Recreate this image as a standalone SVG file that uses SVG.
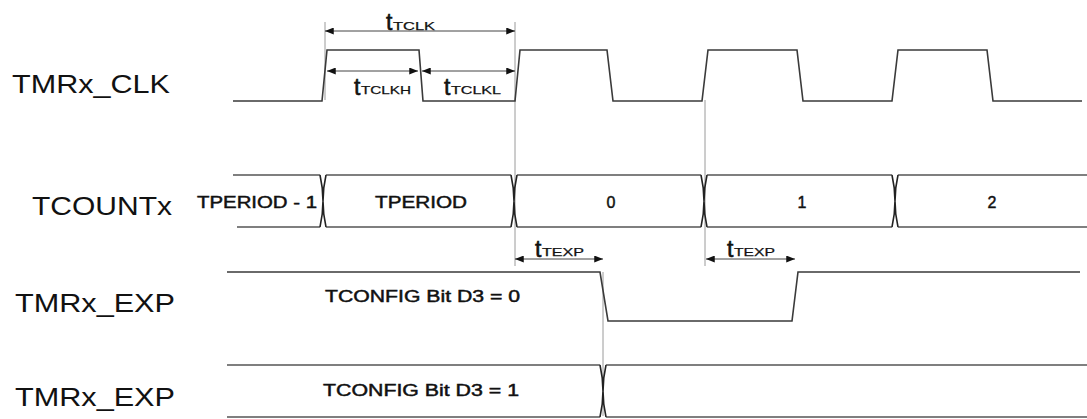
<svg xmlns="http://www.w3.org/2000/svg" width="1087" height="419" viewBox="0 0 1087 419">
<style>
.bg{fill:#ffffff}
.wave{fill:none;stroke:#3a3a3a;stroke-width:1.6;stroke-linejoin:miter}
.bus{fill:none;stroke:#555;stroke-width:1.6}
.xing{fill:none;stroke:#222;stroke-width:1.6}
.ref{fill:none;stroke:#9a9a9a;stroke-width:1}
.dim{fill:none;stroke:#444;stroke-width:1;marker-start:url(#ah);marker-end:url(#ah)}
.lbl{font-family:"Liberation Sans",Arial,sans-serif;fill:#111;font-size:25px}
.val{font-family:"Liberation Sans",Arial,sans-serif;fill:#111;stroke:#111;stroke-width:0.45;font-size:16px}
.t{font-family:"Liberation Sans",Arial,sans-serif;fill:#111;stroke:#111;stroke-width:0.6;font-size:23px}
.sub{font-family:"Liberation Sans",Arial,sans-serif;fill:#111;stroke:#111;stroke-width:0.25;font-size:11px}
</style>
<defs>
<marker id="ah" viewBox="0 0 10 8" refX="10" refY="4" markerWidth="9" markerHeight="7" markerUnits="userSpaceOnUse" orient="auto-start-reverse">
<path d="M0,0 L10,4 L0,8 Z" fill="#111"/>
</marker>
</defs>
<rect class="bg" x="0" y="0" width="1087" height="419"/>

<g id="labels">
<text class="lbl" x="12" y="93" textLength="158" lengthAdjust="spacingAndGlyphs">TMRx_CLK</text>
<text class="lbl" x="32" y="215" textLength="140" lengthAdjust="spacingAndGlyphs">TCOUNTx</text>
<text class="lbl" x="15" y="312" textLength="160" lengthAdjust="spacingAndGlyphs">TMRx_EXP</text>
<text class="lbl" x="15" y="406" textLength="160" lengthAdjust="spacingAndGlyphs">TMRx_EXP</text>
</g>

<g id="connectors">
<line class="ref" x1="325" y1="22" x2="325" y2="100"/>
<line class="ref" x1="515" y1="22" x2="515" y2="266"/>
<line class="ref" x1="705" y1="100" x2="705" y2="266"/>
<line class="ref" x1="603" y1="272" x2="603" y2="416"/>
<line class="dim" x1="325" y1="31" x2="515" y2="31"/>
<line class="dim" x1="327" y1="71" x2="418" y2="71"/>
<line class="dim" x1="422" y1="71" x2="515" y2="71"/>
<line class="dim" x1="515" y1="259" x2="603" y2="259"/>
<line class="dim" x1="706" y1="259" x2="795" y2="259"/>
</g>

<g id="clk">
<path class="wave" d="M233,101 L322,101 L327,50 L419,50 L423,101 L515,101 L520,50 L607,50 L613,101 L702,101 L708,50 L797,50 L803,101 L892,101 L898,50 L987,50 L993,101 L1082,101"/>
</g>

<g id="timing-labels">
<text class="t" x="386" y="30">t</text>
<text class="sub" x="393" y="30" textLength="42" lengthAdjust="spacingAndGlyphs">TCLK</text>
<text class="t" x="354" y="95">t</text>
<text class="sub" x="361" y="94" textLength="50" lengthAdjust="spacingAndGlyphs">TCLKH</text>
<text class="t" x="444" y="95">t</text>
<text class="sub" x="451" y="94" textLength="50" lengthAdjust="spacingAndGlyphs">TCLKL</text>
<text class="t" x="535" y="257">t</text>
<text class="sub" x="542" y="256" textLength="42" lengthAdjust="spacingAndGlyphs">TEXP</text>
<text class="t" x="727" y="257">t</text>
<text class="sub" x="734" y="256" textLength="41" lengthAdjust="spacingAndGlyphs">TEXP</text>
</g>

<g id="tcount">
<path class="bus" d="M233,175 L320,175 M237,227 L320,227 M326,175 L511,175 M326,227 L511,227 M517,175 L701,175 M517,227 L701,227 M707,175 L892,175 M707,227 L892,227 M898,175 L1087,175 M898,227 L1087,227"/>
<path class="xing" d="M320,175 Q326,201 320,227 M326,175 Q320,201 326,227"/>
<path class="xing" d="M511,175 Q517,201 511,227 M517,175 Q511,201 517,227"/>
<path class="xing" d="M701,175 Q707,201 701,227 M707,175 Q701,201 707,227"/>
<path class="xing" d="M892,175 Q898,201 892,227 M898,175 Q892,201 898,227"/>
<text class="val" x="197" y="208" textLength="120" lengthAdjust="spacingAndGlyphs">TPERIOD - 1</text>
<text class="val" x="375" y="208" textLength="92" lengthAdjust="spacingAndGlyphs">TPERIOD</text>
<text class="val" x="611" y="208" text-anchor="middle">0</text>
<text class="val" x="802" y="208" text-anchor="middle">1</text>
<text class="val" x="992" y="208" text-anchor="middle">2</text>
</g>

<g id="exp0">
<path class="wave" d="M227,272 L600,272 L608,321 L792,321 L798,272 L1080,272"/>
<text class="val" x="325" y="302" textLength="195" lengthAdjust="spacingAndGlyphs">TCONFIG Bit D3 = 0</text>
</g>

<g id="exp1">
<path class="bus" d="M227,365 L600,365 M227,417 L600,417 M606,365 L1087,365 M606,417 L1087,417"/>
<path class="xing" d="M600,365 Q606,391 600,417 M606,365 Q600,391 606,417"/>
<text class="val" x="323" y="396" textLength="196" lengthAdjust="spacingAndGlyphs">TCONFIG Bit D3 = 1</text>
</g>
</svg>
